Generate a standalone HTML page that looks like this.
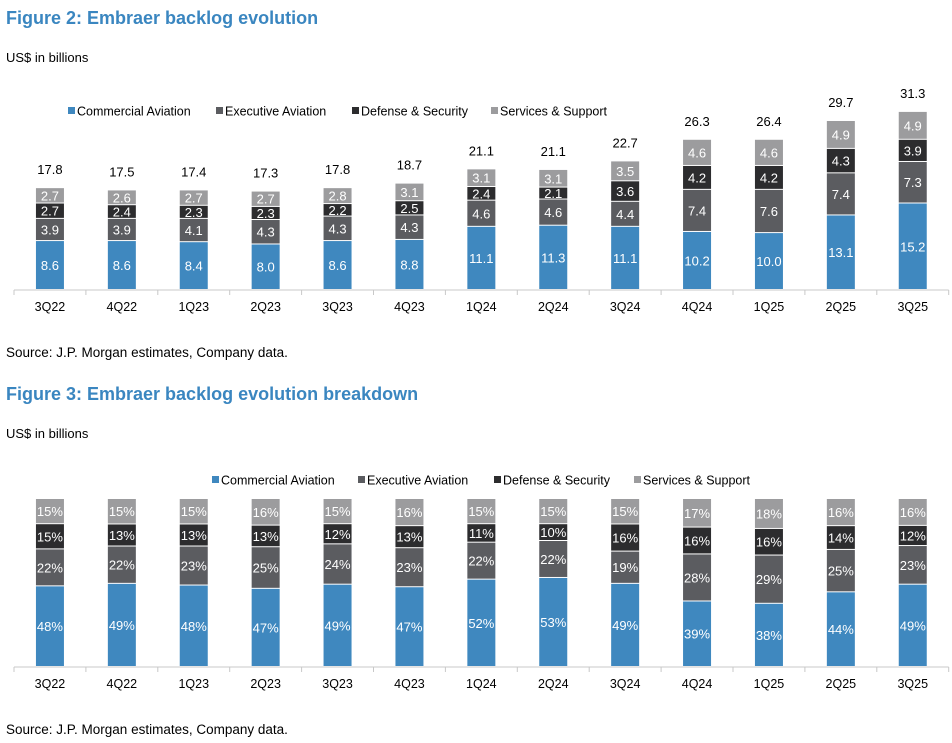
<!DOCTYPE html>
<html><head><meta charset="utf-8">
<style>
html,body{margin:0;padding:0;background:#fff;}
body{width:952px;height:738px;overflow:hidden;font-family:"Liberation Sans",Arial,sans-serif;}
svg text{font-family:"Liberation Sans",Arial,sans-serif;}
</style></head>
<body>
<svg id="svg" width="952" height="738" xmlns="http://www.w3.org/2000/svg">
<text x="6" y="24" font-size="18" font-weight="bold" fill="#3a86c0">Figure 2: Embraer backlog evolution</text>
<text x="6" y="62" font-size="13" fill="#000">US$ in billions</text>
<text x="6" y="357" font-size="13.5" fill="#000">Source: J.P. Morgan estimates, Company data.</text>
<text x="6" y="400" font-size="18" font-weight="bold" fill="#3a86c0">Figure 3: Embraer backlog evolution breakdown</text>
<text x="6" y="438" font-size="13" fill="#000">US$ in billions</text>
<text x="6" y="734" font-size="13.5" fill="#000">Source: J.P. Morgan estimates, Company data.</text>
<g id="c1"></g>
<g id="c2"></g>
</svg>
<script>
const categories=["3Q22","4Q22","1Q23","2Q23","3Q23","4Q23","1Q24","2Q24","3Q24","4Q24","1Q25","2Q25","3Q25"];
const seriesNames=["Commercial Aviation","Executive Aviation","Defense & Security","Services & Support"];
const commercial=[8.6,8.6,8.4,8.0,8.6,8.8,11.1,11.3,11.1,10.2,10.0,13.1,15.2];
const executive=[3.9,3.9,4.1,4.3,4.3,4.3,4.6,4.6,4.4,7.4,7.6,7.4,7.3];
const defense=[2.7,2.4,2.3,2.3,2.2,2.5,2.4,2.1,3.6,4.2,4.2,4.3,3.9];
const services=[2.7,2.6,2.7,2.7,2.8,3.1,3.1,3.1,3.5,4.6,4.6,4.9,4.9];
const totals=["17.8","17.5","17.4","17.3","17.8","18.7","21.1","21.1","22.7","26.3","26.4","29.7","31.3"];
const pctCommercial=[48,49,48,47,49,47,52,53,49,39,38,44,49];
const pctExecutive=[22,22,23,25,24,23,22,22,19,28,29,25,23];
const pctDefense=[15,13,13,13,12,13,11,10,16,16,16,14,12];
const pctServices=[15,15,15,16,15,16,15,15,15,17,18,16,16];

const NS="http://www.w3.org/2000/svg";
const colors=["#3f88bf","#5b5c60","#2c2c2e","#9c9c9e"];
function mk(tag,attrs,parent,txt){const e=document.createElementNS(NS,tag);for(const k in attrs)e.setAttribute(k,attrs[k]);if(txt!==undefined)e.textContent=txt;parent.appendChild(e);return e;}
const x0=14, step=71.9, barW=28;
function xCenter(i){return x0+step*(i+0.5);}

function drawChart(g,series,baseY,yScale,labelFmt,legendY,legendX,totalLabels){
  const ax=mk("line",{x1:x0,y1:baseY,x2:x0+step*categories.length,y2:baseY,stroke:"#c8c8c8","stroke-width":1},g);
  
  
  for(let i=0;i<=categories.length;i++){
    const t=mk("line",{x1:x0+step*i,y1:baseY,x2:x0+step*i,y2:baseY+5,stroke:"#c8c8c8"},g);
    
    
  }
  categories.forEach((c,i)=>{
    const lab=mk("text",{x:xCenter(i),y:baseY+21,"font-size":12.5,"text-anchor":"middle",fill:"#000"},g,c);
    
    
    let cum=0;
    const sum=series.reduce((a,s)=>a+s[i],0);
    series.forEach((s,k)=>{
      const y1=yScale(cum,sum), y2=yScale(cum+s[i],sum);
      const r=mk("rect",{x:xCenter(i)-barW/2,y:y2,width:barW,height:Math.max(0,y1-y2-1),fill:colors[k]},g);
      
      
      const t=mk("text",{x:xCenter(i),y:(y1+y2)/2+4.5,"font-size":13,"text-anchor":"middle",fill:"#fff"},g,labelFmt(s[i]));
      
      
      cum+=s[i];
    });
    if(totalLabels){
      const tt=mk("text",{x:xCenter(i),y:yScale(cum,sum)-14,"font-size":13,"text-anchor":"middle",fill:"#000"},g,totalLabels[i]);
      
      
    }
  });
  seriesNames.forEach((n,k)=>{
    const sq=mk("rect",{x:legendX[k],y:legendY-4,width:7,height:7,fill:colors[k]},g);
    
    
    const lt=mk("text",{x:legendX[k]+9,y:legendY+4.5,"font-size":12.5,fill:"#000",textLength:"0"},g,n);
    lt.removeAttribute("textLength");
    
    
  });
}
const s1=[commercial,executive,defense,services];
drawChart(document.getElementById('c1'),s1,290,(v)=>290-v*5.69,(v)=>v.toFixed(1),111,[68,216,352,491],totals);
const s2=[pctCommercial,pctExecutive,pctDefense,pctServices];
drawChart(document.getElementById('c2'),s2,667,(v,sum)=>667-v/sum*168,(v)=>v+"%",480,[212,358,494,634],null);
</script>
</body></html>
